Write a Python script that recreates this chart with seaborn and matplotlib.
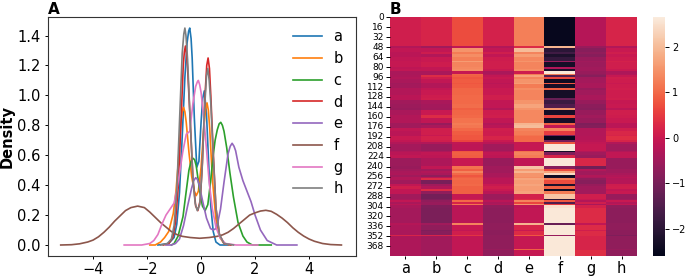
import numpy as np
import pandas as pd
import matplotlib
matplotlib.use('Agg')
import matplotlib.pyplot as plt
import seaborn as sns

names = ['a', 'b', 'c', 'd', 'e', 'f', 'g', 'h']

# density curves
a_x = [-1.6, -1.2, -1.0, -0.9, -0.8, -0.7, -0.6, -0.52, -0.46, -0.42, -0.37, -0.33, -0.25, -0.16, -0.08, 0.0, 0.06, 0.12, 0.2, 0.28, 0.36, 0.45, 0.55, 0.7, 1.0]
a_y = [0.0, 0.01, 0.05, 0.14, 0.35, 0.72, 1.12, 1.35, 1.43, 1.45, 1.38, 1.25, 0.85, 0.52, 0.56, 0.82, 0.98, 1.03, 0.88, 0.55, 0.26, 0.09, 0.02, 0.0, 0.0]
b_x = [-1.9, -1.7, -1.5, -1.35, -1.2, -1.03, -0.93, -0.84, -0.75, -0.7, -0.65, -0.6, -0.55, -0.45, -0.35, -0.25, -0.18, -0.1, 0.0, 0.1, 0.17, 0.22, 0.27, 0.32, 0.42, 0.55, 0.7, 0.85, 1.1]
b_y = [0.0, 0.0, 0.02, 0.05, 0.09, 0.21, 0.36, 0.56, 0.82, 0.89, 0.92, 0.89, 0.82, 0.62, 0.46, 0.36, 0.33, 0.36, 0.52, 0.78, 0.91, 0.95, 0.9, 0.78, 0.44, 0.17, 0.05, 0.01, 0.0]
c_x = [-1.1, -1.0, -0.85, -0.67, -0.55, -0.45, -0.37, -0.3, -0.24, -0.18, -0.05, 0.05, 0.15, 0.25, 0.35, 0.45, 0.52, 0.6, 0.67, 0.73, 0.79, 0.85, 0.95, 1.07, 1.2, 1.37, 1.55, 1.7, 1.9, 2.1, 2.6]
c_y = [0.0, 0.01, 0.06, 0.19, 0.36, 0.5, 0.56, 0.58, 0.57, 0.53, 0.36, 0.26, 0.23, 0.27, 0.42, 0.6, 0.7, 0.77, 0.81, 0.82, 0.8, 0.76, 0.65, 0.48, 0.32, 0.15, 0.06, 0.02, 0.0, 0.0, 0.0]
d_x = [-1.4, -1.2, -1.05, -0.95, -0.85, -0.75, -0.66, -0.62, -0.58, -0.54, -0.5, -0.4, -0.3, -0.2, -0.12, -0.03, 0.05, 0.14, 0.21, 0.26, 0.31, 0.36, 0.45, 0.55, 0.68, 0.85, 1.1]
d_y = [0.0, 0.01, 0.05, 0.15, 0.38, 0.8, 1.2, 1.29, 1.33, 1.28, 1.18, 0.82, 0.44, 0.26, 0.23, 0.3, 0.55, 0.98, 1.2, 1.25, 1.18, 1.0, 0.62, 0.25, 0.07, 0.01, 0.0]
e_x = [-1.3, -1.1, -0.95, -0.8, -0.65, -0.5, -0.35, -0.27, -0.2, -0.14, -0.08, 0.05, 0.2, 0.35, 0.45, 0.55, 0.63, 0.72, 0.85, 1.0, 1.08, 1.15, 1.22, 1.28, 1.4, 1.55, 1.7, 1.85, 2.0, 2.2, 2.45, 2.8, 3.1, 3.55]
e_y = [0.0, 0.0, 0.01, 0.04, 0.13, 0.26, 0.38, 0.43, 0.45, 0.44, 0.41, 0.3, 0.18, 0.11, 0.1, 0.11, 0.16, 0.24, 0.42, 0.61, 0.66, 0.68, 0.66, 0.63, 0.52, 0.43, 0.36, 0.29, 0.2, 0.1, 0.03, 0.0, 0.0, 0.0]
f_x = [-5.2, -4.8, -4.5, -4.2, -4.0, -3.8, -3.6, -3.4, -3.2, -3.0, -2.8, -2.6, -2.35, -2.1, -1.9, -1.7, -1.5, -1.3, -1.1, -0.9, -0.7, -0.4, -0.05, 0.3, 0.6, 0.8, 1.0, 1.2, 1.4, 1.6, 1.8, 2.0, 2.2, 2.4, 2.6, 2.8, 3.0, 3.2, 3.4, 3.6, 3.8, 4.0, 4.2, 4.5, 4.8, 5.2]
f_y = [0.0, 0.002, 0.008, 0.02, 0.033, 0.055, 0.085, 0.12, 0.16, 0.195, 0.23, 0.25, 0.26, 0.25, 0.22, 0.185, 0.15, 0.12, 0.09, 0.07, 0.058, 0.05, 0.045, 0.05, 0.058, 0.068, 0.085, 0.11, 0.14, 0.17, 0.2, 0.215, 0.227, 0.232, 0.225, 0.205, 0.18, 0.15, 0.115, 0.085, 0.06, 0.04, 0.025, 0.01, 0.003, 0.0]
g_x = [-2.85, -2.2, -1.9, -1.75, -1.6, -1.45, -1.3, -1.15, -1.0, -0.9, -0.78, -0.68, -0.55, -0.42, -0.3, -0.2, -0.14, -0.1, -0.05, 0.0, 0.1, 0.2, 0.3, 0.42, 0.55, 0.7, 0.9, 1.3, 2.1]
g_y = [0.0, 0.0, 0.01, 0.03, 0.07, 0.14, 0.2, 0.24, 0.28, 0.37, 0.5, 0.62, 0.74, 0.76, 0.95, 1.06, 1.09, 1.1, 1.07, 1.02, 0.85, 0.64, 0.42, 0.24, 0.12, 0.05, 0.01, 0.0, 0.0]
h_x = [-1.5, -1.25, -1.1, -1.0, -0.9, -0.8, -0.7, -0.64, -0.6, -0.56, -0.5, -0.4, -0.3, -0.22, -0.14, -0.05, 0.03, 0.12, 0.2, 0.25, 0.3, 0.36, 0.45, 0.55, 0.68, 0.85, 1.2]
h_y = [0.0, 0.01, 0.04, 0.13, 0.36, 0.82, 1.28, 1.41, 1.45, 1.4, 1.24, 0.82, 0.44, 0.28, 0.23, 0.27, 0.48, 0.88, 1.13, 1.18, 1.1, 0.95, 0.6, 0.25, 0.07, 0.01, 0.0]

curve_x = [a_x, b_x, c_x, d_x, e_x, f_x, g_x, h_x]
curve_y = [a_y, b_y, c_y, d_y, e_y, f_y, g_y, h_y]

# heatmap of panel B, as bands of rows with the same colour
band_rows = [47, 3, 6, 4, 4, 6, 3, 7, 3, 4, 4, 2, 4, 3, 6, 2, 6, 3, 8, 5, 3, 7, 7, 3, 8, 4, 8, 3, 6, 4, 6, 2, 7, 3, 3, 11, 2, 5, 5, 12, 5, 4, 3, 3, 3, 2, 3, 6, 4, 4, 3, 6, 7, 2, 3, 3, 2, 5, 24, 3, 8, 2, 7, 1, 20, 2, 10]
col_a = [.1, -.3, -.1, -.2, -.2, -.1, -.05, -.05, -.15, -.1, -.4, -.4, -.35, -.3, -.4, -.5, -.45, -.3, -.3, -.2, -.2, -.5, -.55, -.6, -.4, -.3, -.3, -.5, -.5, -.1, -.2, -.2, 0, -.1, -.3, -.45, -.3, -.2, -.1, -.55, -.6, -.5, -.4, -.35, -.5, -.3, -.3, -.5, -.1, .1, -.1, -.1, -.5, -.4, -.1, -.4, -.2, -.4, -.45, -.25, -.35, -.4, -.4, .2, -.35, -.35, -.35]
col_b = [.2, -.5, -.1, .05, -.3, 0, 0, .05, -.1, -.1, -.4, -.4, .3, .1, -.1, -.3, -.3, -.1, 0, .05, .1, -.4, -.45, -.5, 0, .3, -.1, -.6, -.4, .1, .1, 0, .15, .1, -.3, -.6, -.35, -.1, -.15, -.35, -.1, -.5, -.3, -.4, -.7, -.2, .3, -1.0, -.5, -.3, .3, -.7, -1.05, -.9, -.7, -.6, -.6, -.9, -.95, -.5, -.7, -.9, -.8, .2, -.5, -.5, -.5]
col_c = [.7, -.1, 1.5, 1.2, 1.4, 1.25, 1.6, 1.3, 1.35, 1.4, -.05, .95, .9, .8, .85, .8, .85, .95, .95, 1.0, 1.0, 1.0, 1.05, .9, .95, 1.0, 1.1, 1.2, 1.15, 1.0, .85, .8, .8, .6, -.1, -.15, .8, .9, .85, 0, 1.1, .9, 1.3, 1.0, .8, .9, 1.0, .95, 1.0, .9, .9, .9, -.05, .1, 1.0, .2, 1.1, -.2, -.2, 1.3, 0, -.1, .1, .4, -.1, -.1, -.1]
col_d = [.15, -.3, -.1, .1, -.1, .05, .1, .1, .1, 0, -.4, -.3, -.1, 0, -.1, -.2, -.1, 0, 0, .1, .1, -.1, -.1, -.3, .05, .1, -.1, -.3, -.2, .1, .05, .05, .2, 0, -.2, -.5, -.3, -.1, -.15, -.6, -.5, -.5, -.5, -.4, -.4, -.3, -.2, -.2, 0, .1, 0, -.2, -.55, -.5, -.2, -.4, -.3, -.7, -.75, -.7, -.7, -.75, -.75, -.7, -.7, -.6, -.7]
col_e = [1.25, .3, 2.0, 1.3, 1.6, 1.35, 1.5, 1.3, 1.3, 1.4, .05, 1.2, 1.7, 1.3, 1.5, 1.6, 1.2, 1.4, 1.3, 1.3, 1.3, 1.5, 1.7, 1.5, 1.35, 1.35, 1.35, 1.9, 2.0, 1.3, 1.2, 1.1, 1.0, 1.0, -.05, -.05, 1.1, 1.3, 1.2, -.1, 2.1, 1.6, 1.9, 1.5, 1.5, 1.4, 1.7, 1.6, 1.7, 1.6, 1.6, 1.7, .15, .3, 1.3, .6, 1.5, -.15, -.1, 1.9, .2, 0, .3, .8, -.05, .9, -.05]
col_f = [-2.5, 1.9, -2.0, -1.7, -2.2, -1.9, -.6, -2.3, -.3, -2.2, 2.6, 1.2, -1.5, .6, -2.4, .8, -2.3, .9, -2.3, -2.3, -1.2, -1.8, -1.5, 1.5, -2.3, .6, -2.3, .9, -.1, 1.3, .5, -1.0, -2.5, -1.0, .8, 2.6, -2.3, -.9, .2, 2.6, -.8, .7, 1.7, 2.4, -2.4, -2.3, 1.2, .7, -2.2, .9, -2.4, 1.2, 2.1, -2.0, .8, -1.5, .5, 2.5, 2.6, -1.2, 2.6, 2.6, 2.6, -.6, 2.6, 2.6, 2.6]
col_g = [-.25, -.6, -.8, -.7, -.8, -.6, -.5, -.55, -.5, -.5, -.6, -.7, -.8, -.5, -.45, -.4, -.4, -.6, -.5, -.4, -.4, -.6, -.75, -.8, -.6, -.5, -.6, -.9, -.85, -.3, -.3, -.3, -.25, -.2, -.1, -.05, -.3, -.5, -.6, .25, -1.1, -.3, -.5, -.5, -.3, -.4, -.7, -.8, -.6, -.5, -.5, -.5, .1, 0, -.3, .1, -.4, .15, .3, -.1, .3, .1, .3, .3, .2, .2, .35]
col_h = [.2, -.3, 0, .1, 0, .05, .15, .1, .1, 0, -.35, -.3, -.05, .1, .05, 0, .05, .1, .05, .05, .1, -.05, 0, -.2, .1, .05, 0, -.2, -.2, .1, .25, .2, .35, .2, -.3, -.5, -.3, -.1, -.1, -.6, -.6, -.5, -.5, -.4, -.3, -.2, -.3, -.25, .05, .1, -.1, 0, -.6, -.5, 0, -.3, -.1, -.7, -.75, -.7, -.7, -.75, -.75, -.9, -.7, -.6, -.7]

bands = pd.DataFrame(dict(zip(names, [col_a, col_b, col_c, col_d, col_e, col_f, col_g, col_h])))
heat = bands.loc[np.repeat(bands.index, band_rows)].reset_index(drop=True)

W, H = 685, 278
fig = plt.figure(figsize=(W / 100, H / 100), dpi=100)

def box(x0, x1, y0, y1):
    return [x0 / W, 1 - y1 / H, (x1 - x0) / W, (y1 - y0) / H]

ax1 = fig.add_axes(box(47.5, 356, 17, 256))
ax2 = fig.add_axes(box(390, 637, 17, 256))
cax = fig.add_axes(box(653, 665, 17, 256))

# Panel A
for name, xs, ys in zip(names, curve_x, curve_y):
    sns.lineplot(x=xs, y=ys, label=name, lw=1.2, sort=False, estimator=None, ax=ax1)
ax1.set_xlim(-5.69, 5.74)
ax1.set_ylim(-0.0735, 1.524)
ax1.set_xticks([-4, -2, 0, 2, 4])
ax1.set_yticks([0, 0.2, 0.4, 0.6, 0.8, 1.0, 1.2, 1.4])
ax1.tick_params(axis='x', labelsize=10.5, length=2.5, width=0.7, pad=1.5)
ax1.tick_params(axis='y', labelsize=10.5, length=2.5, width=0.7, pad=2.5)
ax1.set_ylabel('Density', fontsize=10.5, fontweight='bold', labelpad=2)
ax1.legend(frameon=False, fontsize=10.5, loc='upper right', bbox_to_anchor=(1.0, 1.003), labelspacing=0.46)
ax1.set_title('A', loc='left', fontsize=11, fontweight='bold', pad=2)
for s in ax1.spines.values():
    s.set_color('#333333')

# Panel B
sns.heatmap(heat, vmin=-2.6, vmax=2.65, yticklabels=16, cbar_ax=cax, ax=ax2)
ax2.tick_params(axis='x', labelsize=10.5, length=2.5, width=0.7, rotation=0, pad=1)
ax2.tick_params(axis='y', labelsize=6.5, length=3, width=0.7, rotation=0, pad=1.5)
ax2.set_title('B', loc='left', fontsize=11, fontweight='bold', pad=2)
cax.tick_params(labelsize=7, length=3, width=0.7, pad=2)
cax.set_yticks([-2, -1, 0, 1, 2])
cax.collections[0].set_edgecolor('face')

fig.savefig('out.png', dpi=100)
